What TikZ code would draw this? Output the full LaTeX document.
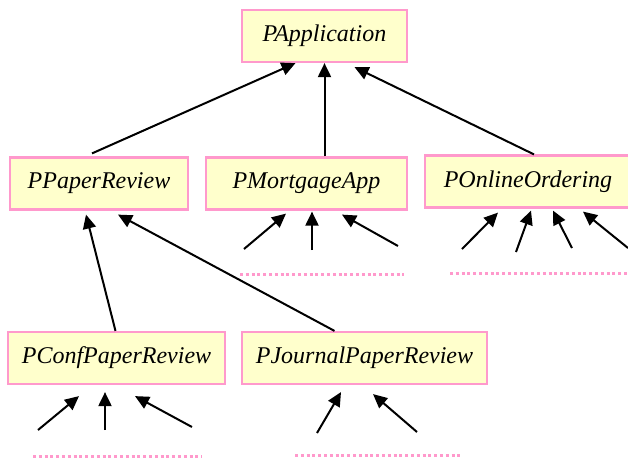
\documentclass[tikz,border=0pt]{standalone}
\usepackage{fontspec}
\setmainfont{Liberation Serif}
\usetikzlibrary{arrows.meta}
\definecolor{boxfill}{HTML}{FFFFCC}
\definecolor{boxline}{HTML}{FF99CC}
\begin{document}
\begin{tikzpicture}[x=0.5pt,y=-0.5pt]
\tikzstyle{cls}=[draw=boxline, fill=boxfill, line width=1.1pt, minimum height=26pt, inner sep=0pt, font=\fontsize{12}{14}\selectfont\itshape]
\tikzstyle{inh}=[black, line width=1pt, -{Triangle[length=7pt,width=6.5pt]}]
\tikzstyle{more}=[boxline, line width=1.5pt, dash pattern=on 1.5pt off 1.4pt]
\useasboundingbox (0,0) rectangle (628,457);
\node [cls, minimum width=82.5pt] (app) at (324.5,36) {PApplication};
\node [cls, minimum width=89pt] (paper) at (99,183.5) {PPaperReview};
\node [cls, minimum width=100.5pt] (mort) at (306.5,183.5) {PMortgageApp};
\node [cls, minimum width=103pt] (online) at (528,181.5) {POnlineOrdering};
\node [cls, minimum width=108.5pt] (conf) at (116.5,358) {PConfPaperReview};
\node [cls, minimum width=122.5pt] (journal) at (364.5,358) {PJournalPaperReview};
\draw [inh] ([xshift=-3.5pt,yshift=1.5pt]paper.north) -- ([xshift=-14.5pt]app.south);
\draw [inh] ([xshift=9pt]mort.north) -- (app.south);
\draw [inh] ([xshift=3pt]online.north) -- ([xshift=15pt,yshift=-2pt]app.south);
\draw [inh] ([xshift=-0.5pt]conf.north) -- ([xshift=-6.5pt,yshift=-2pt]paper.south);
\draw [inh] ([xshift=-15pt]journal.north) -- ([xshift=9.5pt,yshift=-2pt]paper.south);
\coordinate (m1) at (244,249);
\coordinate (m2) at (312,250);
\coordinate (m3) at (398,246);
\draw [inh] (m1) -- ([xshift=-10.25pt,yshift=-1.5pt]mort.south);
\draw [inh] (m2) -- ([xshift=2.75pt,yshift=-0.5pt]mort.south);
\draw [inh] (m3) -- ([xshift=17.75pt,yshift=-2pt]mort.south);
\draw [more] (240,274) -- (404,274);
\coordinate (o1) at (462,249);
\coordinate (o2) at (516,252);
\coordinate (o3) at (572,248);
\coordinate (o4) at (628,248);
\draw [inh] (o1) -- ([xshift=-15pt,yshift=-2pt]online.south);
\draw [inh] (o2) -- ([xshift=1.5pt,yshift=-1pt]online.south);
\draw [inh] (o3) -- ([xshift=12.5pt,yshift=-1pt]online.south);
\draw [inh] (o4) -- ([xshift=27.5pt,yshift=-1.5pt]online.south);
\draw [more] (450,273) -- (628,273);
\coordinate (c1) at (38,430);
\coordinate (c2) at (105,430);
\coordinate (c3) at (192,427);
\draw [inh] (c1) -- ([xshift=-18.75pt,yshift=-5.5pt]conf.south);
\draw [inh] (c2) -- ([xshift=-5.75pt,yshift=-3.5pt]conf.south);
\draw [inh] (c3) -- ([xshift=9.25pt,yshift=-5.5pt]conf.south);
\draw [more] (33,456) -- (202,456);
\coordinate (j1) at (317,433);
\coordinate (j2) at (417,432);
\draw [inh] (j1) -- ([xshift=-11.75pt,yshift=-3.5pt]journal.south);
\draw [inh] (j2) -- ([xshift=4.25pt,yshift=-4.5pt]journal.south);
\draw [more] (295,455) -- (463,455);
\end{tikzpicture}
\end{document}
